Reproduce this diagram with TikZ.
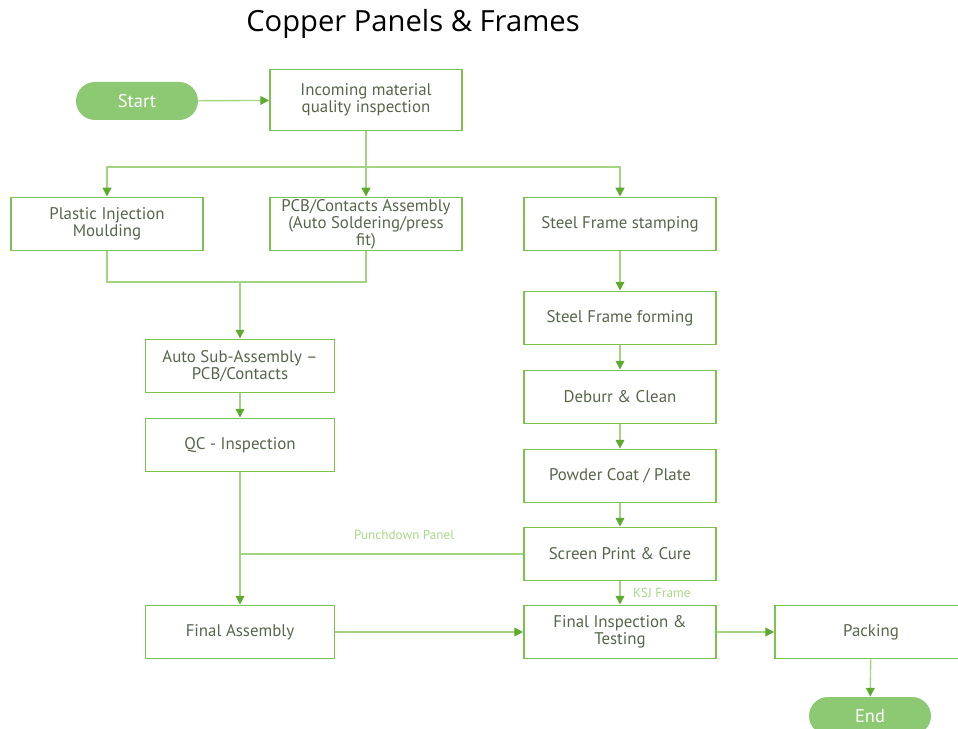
\documentclass[tikz,border=0pt]{standalone}
\usepackage{fontspec}
\setmainfont{PT Sans}
\newfontfamily\titlefont{Open Sans}
\usetikzlibrary{arrows.meta}
\definecolor{boxgreen}{HTML}{7DC24E}
\definecolor{linegreen}{HTML}{A3D482}
\definecolor{tipgreen}{HTML}{5DAA2E}
\definecolor{termgreen}{HTML}{8DC872}
\definecolor{txtgray}{HTML}{56664A}
\definecolor{lblgreen}{HTML}{A8D98A}

\begin{document}
\begin{tikzpicture}[x=0.02cm,y=-0.02cm,
  box/.style={draw=boxgreen,line width=1.1pt,minimum width=3.84cm,minimum height=1.06cm,
    inner ysep=1pt,align=center,text=txtgray,font=\fontsize{9.6}{9.6}\selectfont},
  narrowbox/.style={box,minimum width=3.78cm},
  term/.style={fill=termgreen,draw=none,rounded corners=0.38cm,minimum width=2.44cm,
    minimum height=0.76cm,text=white,font=\fontsize{10.5}{12}\selectfont},
  link/.style={draw=linegreen,line width=0.8pt},
  arr/.style={link,-{Triangle[width=5pt,length=5pt,color=tipgreen]}},
  lbl/.style={text=lblgreen,font=\fontsize{7.5}{9}\selectfont,inner sep=1pt}]
\useasboundingbox (0,0) rectangle (958,729);

% title
\node[font=\titlefont\fontsize{16.6}{20}\selectfont] (title) at (413,24) {Copper Panels \& Frames};

% left column
\node[term] (start) at (137,101) {Start};
\node[box,minimum height=1.22cm] (incoming) at (366,100) {Incoming material\\quality inspection};
\node[box] (plastic) at (107,224) {Plastic Injection\\Moulding};
\node[box,inner ysep=0pt] (pcb) at (366,224) {PCB/Contacts Assembly\\(Auto Soldering/press\\fit)};
\node[narrowbox] (autosub) at (240,366) {Auto Sub-Assembly –\\PCB/Contacts};
\node[narrowbox] (qc) at (240,445) {QC - Inspection};
\node[narrowbox] (finalasm) at (240,632) {Final Assembly};

% right column
\node[box] (stamping) at (620,224) {Steel Frame stamping};
\node[box] (forming) at (620,318) {Steel Frame forming};
\node[box] (deburr) at (620,397) {Deburr \& Clean};
\node[box] (powder) at (620,476) {Powder Coat / Plate};
\node[box] (screen) at (620,554) {Screen Print \& Cure};
\node[box] (finalinsp) at (620,632) {Final Inspection \&\\Testing};
\node[box] (packing) at (871,632) {Packing};
\node[term] (end) at (870,716) {End};

% junctions
\coordinate (fork) at (366,167);
\coordinate (merge) at (240,282);
\coordinate (tee) at (240,554);

% connectors
\draw[arr] (start) -- (incoming);
\draw[link] (incoming) -- (fork);
\draw[arr] (fork) -| (plastic);
\draw[arr] (fork) -- (pcb);
\draw[arr] (fork) -| (stamping);
\draw[link] (plastic) |- (merge);
\draw[link] (pcb) |- (merge);
\draw[arr] (merge) -- (autosub);
\draw[arr] (autosub) -- (qc);
\draw[arr] (qc) -- (finalasm);
\draw[arr] (stamping) -- (forming);
\draw[arr] (forming) -- (deburr);
\draw[arr] (deburr) -- (powder);
\draw[arr] (powder) -- (screen);
\draw[link] (screen) -- (tee) node[lbl,pos=0.42,above=7pt] {Punchdown Panel};
\draw[arr] (screen) -- (finalinsp) node[lbl,midway,right=6pt] {KSJ Frame};
\draw[arr] (finalasm) -- (finalinsp);
\draw[arr] (finalinsp) -- (packing);
\draw[arr] (packing) -- (end);

\end{tikzpicture}
\end{document}
